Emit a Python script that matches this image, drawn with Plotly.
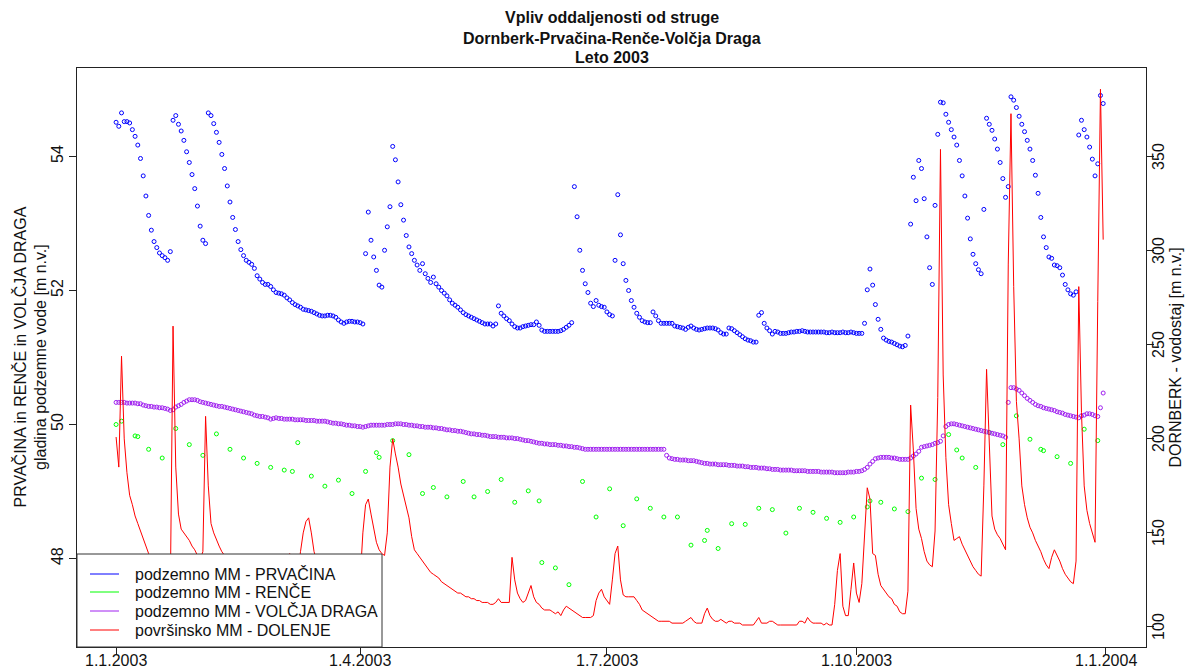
import pandas as pd
import plotly.graph_objects as go

START = "2003-01-01"
N_DAYS = 365

# ---- PRVAČINA (blue), daily groundwater level [m n.v.]
prvacina = [
    54.51,54.45,54.65,54.52,54.52,54.50,54.40,54.30,54.17,53.97,
    53.71,53.41,53.12,52.90,52.73,52.64,52.56,52.52,52.49,52.45,
    52.58,54.54,54.61,54.48,54.38,54.24,54.07,53.91,53.73,53.52,
    53.26,52.96,52.75,52.70,54.65,54.61,54.49,54.36,54.21,54.03,
    53.82,53.56,53.32,53.09,52.91,52.73,52.61,52.52,52.45,52.42,
    52.39,52.33,52.22,52.17,52.12,52.09,52.09,52.06,52.01,51.97,
    51.96,51.95,51.93,51.89,51.86,51.82,51.79,51.77,51.75,51.72,
    51.71,51.70,51.69,51.67,51.65,51.63,51.62,51.62,51.63,51.63,
    51.62,51.60,51.56,51.53,51.51,51.53,51.54,51.54,51.53,51.53,
    51.52,51.50,52.55,53.17,52.75,52.50,52.30,52.08,52.05,52.60,
    52.95,53.25,54.15,53.95,53.62,53.28,53.05,52.82,52.65,52.55,
    52.45,52.38,52.30,52.40,52.25,52.18,52.12,52.20,52.10,52.05,
    52.00,51.96,51.92,51.86,51.81,51.78,51.75,51.71,51.67,51.64,
    51.62,51.60,51.58,51.56,51.54,51.52,51.50,51.50,51.50,51.47,
    51.50,51.77,51.66,51.62,51.58,51.55,51.50,51.46,51.44,51.44,
    51.46,51.47,51.48,51.49,51.49,51.53,51.48,51.41,51.39,51.39,
    51.39,51.39,51.39,51.39,51.40,51.42,51.45,51.48,51.52,53.55,
    53.10,52.60,52.30,52.10,51.97,51.81,51.76,51.85,51.78,51.76,
    51.75,51.68,51.64,51.62,52.45,53.43,52.83,52.40,52.15,52.00,
    51.85,51.75,51.66,51.60,51.55,51.53,51.52,51.52,51.68,51.62,
    51.55,51.51,51.51,51.51,51.51,51.51,51.47,51.46,51.45,51.44,
    51.42,51.45,51.47,51.44,51.42,51.41,51.42,51.43,51.44,51.44,
    51.44,51.43,51.41,51.37,51.35,51.35,51.44,51.43,51.40,51.37,
    51.34,51.31,51.28,51.26,51.25,51.23,51.23,51.63,51.67,51.51,
    51.44,51.40,51.35,51.39,51.38,51.36,51.36,51.36,51.37,51.38,
    51.38,51.39,51.39,51.40,51.39,51.38,51.38,51.38,51.38,51.38,
    51.38,51.38,51.37,51.37,51.38,51.37,51.37,51.37,51.38,51.37,
    51.37,51.38,51.37,51.36,51.36,51.36,51.51,52.01,52.32,52.08,
    51.79,51.57,51.42,51.29,51.26,51.24,51.23,51.21,51.19,51.17,
    51.16,51.18,51.32,52.99,53.69,53.34,53.94,53.82,53.37,52.80,
    52.34,52.09,53.27,54.33,54.81,54.80,54.63,54.51,54.40,54.29,
    54.17,53.94,53.71,53.41,53.08,52.77,52.54,52.40,52.31,52.25,
    53.21,54.57,54.48,54.39,54.26,54.11,53.91,53.67,53.39,53.55,
    54.89,54.84,54.73,54.60,54.48,54.37,54.24,54.11,53.94,53.72,
    53.45,53.09,52.80,52.64,52.50,52.48,52.38,52.37,52.34,52.23,
    52.09,52.01,51.95,51.93,51.98,54.32,54.54,54.40,54.29,54.14,
    53.96,53.71,53.89,54.91,54.79,
]

# ---- VOLČJA DRAGA (purple), daily groundwater level [m n.v.]
volcja_draga = [
    50.33,50.33,50.33,50.33,50.32,50.32,50.32,50.32,50.31,50.31,
    50.29,50.28,50.27,50.27,50.26,50.26,50.25,50.25,50.24,50.23,
    50.21,50.22,50.26,50.28,50.30,50.33,50.35,50.37,50.37,50.37,
    50.36,50.34,50.33,50.32,50.31,50.30,50.29,50.28,50.27,50.27,
    50.26,50.25,50.24,50.23,50.22,50.21,50.20,50.19,50.18,50.17,
    50.16,50.14,50.13,50.12,50.12,50.11,50.10,50.08,50.09,50.10,
    50.09,50.09,50.08,50.08,50.08,50.08,50.07,50.07,50.07,50.07,
    50.06,50.06,50.06,50.06,50.05,50.05,50.05,50.05,50.04,50.03,
    50.02,50.02,50.01,50.01,50.00,49.99,49.99,49.98,49.98,49.97,
    49.97,49.96,49.97,49.98,49.99,49.99,49.99,49.99,49.99,49.99,
    50.00,50.00,50.00,50.01,50.01,50.01,50.00,50.00,49.99,49.99,
    49.98,49.98,49.97,49.97,49.96,49.96,49.96,49.95,49.95,49.94,
    49.94,49.93,49.92,49.92,49.91,49.91,49.90,49.90,49.89,49.88,
    49.87,49.86,49.86,49.85,49.85,49.84,49.84,49.83,49.82,49.82,
    49.82,49.81,49.81,49.81,49.80,49.80,49.80,49.79,49.79,49.78,
    49.77,49.76,49.76,49.75,49.74,49.73,49.72,49.72,49.71,49.71,
    49.70,49.70,49.70,49.69,49.69,49.68,49.68,49.67,49.67,49.66,
    49.66,49.65,49.64,49.63,49.63,49.63,49.63,49.63,49.63,49.63,
    49.63,49.63,49.63,49.63,49.63,49.63,49.63,49.63,49.63,49.63,
    49.63,49.63,49.63,49.63,49.63,49.63,49.63,49.63,49.63,49.63,
    49.63,49.63,49.63,49.54,49.50,49.49,49.48,49.48,49.47,49.47,
    49.47,49.46,49.46,49.46,49.45,49.44,49.43,49.42,49.42,49.41,
    49.41,49.41,49.40,49.40,49.40,49.40,49.39,49.39,49.39,49.38,
    49.38,49.38,49.37,49.37,49.36,49.36,49.36,49.35,49.35,49.35,
    49.34,49.34,49.33,49.33,49.33,49.32,49.32,49.32,49.32,49.32,
    49.31,49.31,49.31,49.31,49.31,49.30,49.30,49.30,49.30,49.30,
    49.29,49.29,49.29,49.29,49.29,49.28,49.28,49.28,49.28,49.28,
    49.29,49.29,49.29,49.30,49.30,49.31,49.33,49.36,49.41,49.45,
    49.49,49.50,49.51,49.51,49.51,49.51,49.50,49.50,49.49,49.48,
    49.48,49.48,49.48,49.50,49.53,49.56,49.60,49.66,49.67,49.68,
    49.69,49.70,49.72,49.73,49.75,49.83,49.97,50.00,50.01,50.01,
    50.00,49.99,49.98,49.97,49.96,49.95,49.94,49.93,49.92,49.91,
    49.90,49.89,49.88,49.87,49.86,49.85,49.84,49.83,49.81,50.33,
    50.55,50.55,50.53,50.51,50.47,50.43,50.39,50.36,50.33,50.30,
    50.28,50.27,50.25,50.24,50.23,50.22,50.21,50.19,50.18,50.17,
    50.15,50.14,50.13,50.12,50.11,50.10,50.13,50.14,50.16,50.16,
    50.15,50.13,50.12,50.25,50.47,
]

# ---- RENČE (green), sparse readings: day offset from 1.1.2003 and level
rence_day = [0,2,7,8,12,17,22,27,32,37,42,47,52,57,62,65,67,72,77,82,87,92,96,97,
             102,108,113,117,122,128,132,137,142,147,152,156,157,162,167,172,177,
             182,187,192,197,202,207,212,217,218,222,227,232,237,242,247,252,257,
             262,267,272,277,278,282,287,292,297,302,307,310,312,317,322,327,332,
             337,341,342,347,352,357,362]
rence = [50.00,50.05,49.83,49.82,49.63,49.50,49.94,49.70,49.54,49.86,49.63,49.50,
         49.42,49.36,49.32,49.30,49.73,49.23,49.08,49.17,48.97,49.30,49.58,49.51,
         49.76,49.55,48.97,49.06,48.92,49.15,48.92,49.00,49.18,48.84,49.01,48.86,
         47.94,47.86,47.61,49.15,48.62,49.04,48.49,48.89,48.75,48.62,48.62,48.20,
         48.27,48.42,48.15,48.52,48.51,48.75,48.73,48.38,48.75,48.69,48.60,48.54,
         48.62,48.77,48.86,48.84,48.74,48.70,49.20,49.18,49.85,49.62,49.50,49.36,
         49.88,49.70,50.13,49.78,49.63,49.61,49.52,49.42,49.93,49.76]

# ---- DOLENJE (red line, right axis), daily water level
dolenje = [
    201,185,244,200,182,170,165,159,155,151,
    146,142,139,137,132,128,125,122,120,118,
    120,260,185,160,152,150,148,146,143,141,
    138,136,140,212,175,155,150,146,143,140,
    138,134,131,129,127,125,124,122,121,120,
    119,118,117,116,115,115,114,113,113,112,
    112,115,125,135,139,130,125,128,140,150,
    156,158,150,140,135,130,127,124,122,120,
    118,117,116,115,114,113,113,112,112,113,
    125,150,165,168,160,153,145,141,139,138,
    150,185,200,192,185,176,170,165,158,148,
    141,139,137,135,133,131,129,128,127,126,
    124,123,122,121,120,119,118,118,117,116,
    116,115,115,114,114,113,113,113,112,112,
    113,115,113,113,113,113,137,125,118,115,
    113,114,118,122,116,113,112,110,109,109,
    109,108,107,108,106,109,111,110,109,108,
    107,106,105,105,105,105,106,114,118,120,
    116,114,112,125,139,143,125,117,116,116,
    116,116,114,112,109,108,107,106,105,104,
    103,103,103,103,103,102,102,102,102,102,
    103,104,105,103,102,102,102,107,110,106,
    104,103,103,104,103,102,103,103,102,102,
    102,101,101,101,101,101,103,105,102,102,
    102,103,103,102,101,101,101,101,101,101,
    101,101,103,103,102,105,103,102,102,102,
    102,101,102,101,101,112,130,139,111,106,
    106,120,134,118,113,123,150,174,168,139,
    138,128,122,120,118,116,115,112,111,108,
    107,107,119,218,194,163,152,147,140,135,
    133,132,151,222,354,234,190,165,155,146,
    147,148,144,141,138,135,132,130,128,127,
    175,237,194,159,152,149,147,144,141,293,
    373,281,220,200,175,165,158,153,150,146,
    143,140,136,133,131,137,141,138,135,131,
    128,126,124,123,135,281,214,175,162,155,
    150,145,273,386,306,
]

assert len(prvacina) == N_DAYS, len(prvacina)
assert len(volcja_draga) == N_DAYS, len(volcja_draga)
assert len(dolenje) == N_DAYS, len(dolenje)
assert len(rence_day) == len(rence)

x_tick_vals = ["2003-01-01", "2003-04-01", "2003-07-01", "2003-10-01", "2004-01-01"]
x_tick_text = ["1.1.2003", "1.4.2003", "1.7.2003", "1.10.2003", "1.1.2004"]
left_ticks = [48, 50, 52, 54]
right_ticks = [100, 150, 200, 250, 300, 350]

title_lines = ["Vpliv oddaljenosti od struge",
               "Dornberk-Prvačina-Renče-Volčja Draga",
               "Leto 2003"]
legend_names = ["podzemno MM - PRVAČINA", "podzemno MM - RENČE",
                "podzemno MM - VOLČJA DRAGA", "površinsko MM - DOLENJE"]
colors = ["#0000FF", "#00FF00", "#A020F0", "#FF0000"]

dates = pd.date_range(START, periods=N_DAYS, freq="D")
rence_dates = pd.Timestamp(START) + pd.to_timedelta(rence_day, unit="D")

# ---- layout geometry (pixels)
W, H = 1185, 669
PL, PR, PT, PB = 77, 1146, 68, 647          # plot frame
PW, PH = PR - PL, PB - PT


def px(xp):
    return (xp - PL) / PW


def py(yp):
    return (PB - yp) / PH


FONT = "Liberation Sans, Arial, sans-serif"
TXT = "#111"
mk = dict(symbol="circle-open", size=4, line=dict(width=1))

fig = go.Figure()
fig.add_trace(go.Scatter(x=dates, y=prvacina, mode="markers", showlegend=False,
                         marker=dict(mk, color=colors[0]), yaxis="y"))
fig.add_trace(go.Scatter(x=rence_dates, y=rence, mode="markers", showlegend=False,
                         marker=dict(mk, color=colors[1]), yaxis="y"))
fig.add_trace(go.Scatter(x=dates, y=volcja_draga, mode="markers", showlegend=False,
                         marker=dict(mk, color=colors[2]), yaxis="y"))
fig.add_trace(go.Scatter(x=dates, y=dolenje, mode="lines", showlegend=False,
                         line=dict(color=colors[3], width=1), yaxis="y2"))

axis_common = dict(showline=True, linecolor="#222", linewidth=1, ticks="outside",
                   ticklen=7, tickcolor="#222", showgrid=False, zeroline=False,
                   tickfont=dict(size=16, color=TXT))

# ---- legend box drawn like the original (white box with line samples)
shapes = [dict(type="rect", xref="paper", yref="paper", layer="above",
               x0=px(77), x1=px(382), y0=py(647), y1=py(554),
               fillcolor="white", line=dict(color="#333", width=1))]
annotations = []
row_y = [574, 592, 611, 630]
for name, c, yy in zip(legend_names, colors, row_y):
    shapes.append(dict(type="line", xref="paper", yref="paper", layer="above",
                       x0=px(90), x1=px(119), y0=py(yy), y1=py(yy),
                       line=dict(color=c, width=1)))
    annotations.append(dict(text=name, xref="paper", yref="paper",
                            x=px(133), y=py(yy), xanchor="left", yanchor="middle",
                            showarrow=False, font=dict(size=16, color=TXT)))

for line, yy in zip(title_lines, [18, 38, 57]):
    annotations.append(dict(text="<b>" + line + "</b>", xref="paper", yref="paper",
                            x=0.5, y=py(yy), xanchor="center", yanchor="middle",
                            showarrow=False, font=dict(size=16, color=TXT)))

annotations.append(dict(text="PRVAČINA in RENČE in VOLČJA DRAGA<br>gladina podzemne vode [m n.v.]",
                        xref="paper", yref="paper", x=px(30), y=0.5,
                        xanchor="center", yanchor="middle", textangle=-90,
                        showarrow=False, font=dict(size=16, color=TXT)))
annotations.append(dict(text="DORNBERK - vodostaj [m n.v.]",
                        xref="paper", yref="paper", x=px(1175), y=0.5,
                        xanchor="center", yanchor="middle", textangle=-90,
                        showarrow=False, font=dict(size=16, color=TXT)))

# x tick labels and right-axis tick labels placed at the axis values
for tv, tt in zip(x_tick_vals, x_tick_text):
    annotations.append(dict(text=tt, xref="x", yref="paper", x=tv, y=py(660),
                            xanchor="center", yanchor="middle", showarrow=False,
                            font=dict(size=16, color=TXT)))
for tv in right_ticks:
    annotations.append(dict(text=str(tv), xref="paper", yref="y2", x=px(1159), y=tv,
                            xanchor="center", yanchor="middle", textangle=-90,
                            showarrow=False, font=dict(size=16, color=TXT)))

fig.update_layout(
    width=W, height=H,
    margin=dict(l=PL, r=W - PR, t=PT, b=H - PB),
    paper_bgcolor="white", plot_bgcolor="white",
    font=dict(family=FONT, size=16, color=TXT),
    xaxis=dict(axis_common, type="date", range=["2002-12-17 14:00", "2004-01-15 19:00"],
               tickvals=x_tick_vals, showticklabels=False, mirror=True, automargin=False),
    yaxis=dict(axis_common, range=[46.68, 55.32], tickvals=left_ticks, tickangle=-90,
               automargin=False),
    yaxis2=dict(axis_common, range=[89.3, 397.3], tickvals=right_ticks,
                showticklabels=False, overlaying="y", side="right", automargin=False),
    showlegend=False,
    shapes=shapes,
    annotations=annotations,
)

fig.write_html("out.html", config={"displayModeBar": False},
               post_script="document.body.style.margin='0';document.body.style.overflow='hidden';")
